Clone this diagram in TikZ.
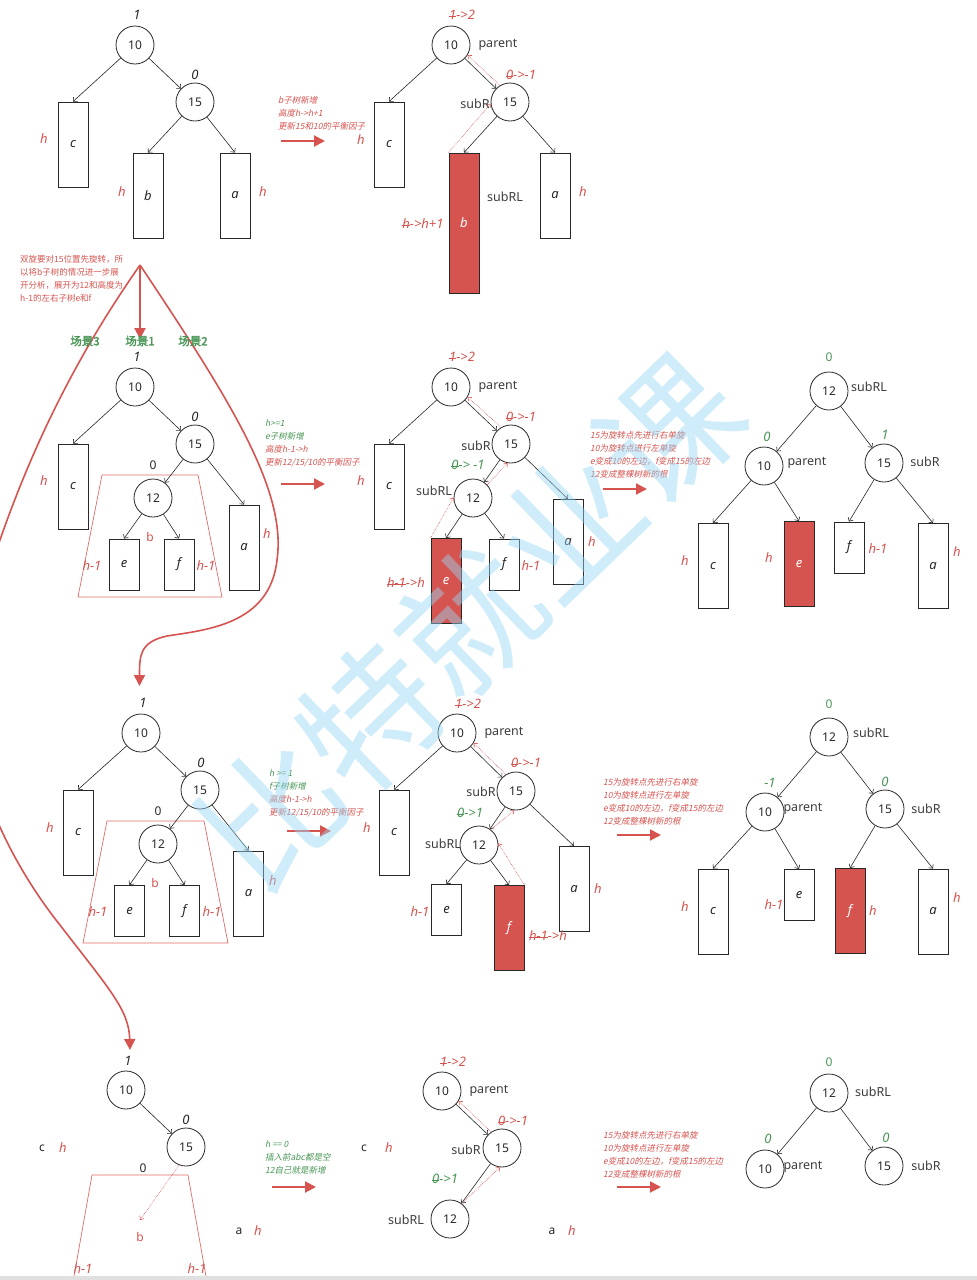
\documentclass[tikz,border=0pt]{standalone}
\usepackage{fontspec}
\setmainfont{Noto Sans}
\newfontfamily\cjk{Noto Sans CJK SC}
\newfontfamily\cjki[FakeSlant=0.2]{Noto Sans CJK SC}
\newfontfamily\cjkb[FakeBold=2]{Noto Sans CJK SC}
\usetikzlibrary{arrows.meta}
\definecolor{myred}{RGB}{214,84,80}
\definecolor{mygreen}{RGB}{72,150,85}
\definecolor{wmblue}{RGB}{150,215,245}
\definecolor{ink}{RGB}{40,40,40}
\newcommand\fsz[1]{\fontsize{#1}{#1}\selectfont}
\newcommand\strk[1]{\leavevmode\setbox0\hbox{#1}\rlap{\raisebox{0.45ex}{\rule{\wd0}{0.6pt}}}\box0}
\tikzset{
 cn/.style={draw=ink, circle, minimum size=38pt, inner sep=0pt, line width=0.8pt, font=\fsz{12}, text=ink},
 bx/.style={draw=ink, line width=0.9pt, minimum width=30pt, inner sep=0pt, font=\itshape\fsz{13}, text=ink},
 rbx/.style={bx, fill=myred, text=white},
 hA/.style={minimum height=85pt},
 hB/.style={minimum height=51pt},
 hC/.style={minimum height=140pt},
 ar/.style={draw=ink, line width=0.6pt, -{Straight Barb[length=3pt,width=6pt]}},
 dar/.style={myred, line width=0.6pt, densely dotted, -{Straight Barb[length=3pt,width=5pt]}},
 bigarr/.style={myred, line width=2pt, -{Triangle[length=11pt,width=11pt]}},
 curvarr/.style={myred, line width=1.6pt, -{Triangle[length=11pt,width=11pt]}},
 trap/.style={myred!85, line width=0.7pt},
 ilab/.style={font=\itshape\fsz{13}, text=ink, inner sep=0pt},
 ulab/.style={font=\fsz{12}, text=ink, inner sep=0pt},
 hlab/.style={font=\itshape\fsz{13}, text=myred, inner sep=0pt},
 glab/.style={font=\itshape\fsz{13}, text=mygreen, inner sep=0pt},
 gup/.style={font=\bfseries\fsz{12}, text=mygreen, inner sep=0pt},
 tag/.style={font=\fsz{12.5}, text=ink!90, inner sep=0pt},
 blab/.style={font=\bfseries\fsz{12}, text=myred, inner sep=0pt},
 note/.style={font=\cjki\fontsize{8.5}{13}\selectfont, align=left, anchor=north west, inner sep=0pt, text=myred},
 scen/.style={font=\cjkb\fsz{11.5}, text=mygreen, inner sep=0pt},
}
\begin{document}
\begin{tikzpicture}[x=1pt,y=-1pt]
\clip (0,0) rectangle (977,1280);
\useasboundingbox (0,0) rectangle (977,1280);
\fill[white] (0,0) rectangle (977,1280);

% ===== Panel 1
\node[cn] (p10) at (135,45) {10};
\node[cn] (p15) at (195,102) {15};
\node[bx,hA] (pc) at (73,144.5) {c};
\node[bx,hA] (pb) at (148,195.5) {b};
\node[bx,hA] (pa) at (235,195.5) {a};
\draw[ar] (p10) -- (pc.north);
\draw[ar] (p10) -- (p15);
\draw[ar] (p15) -- (pb.north);
\draw[ar] (p15) -- (pa.north);
\node[ilab] (pl1) at (137,15) {1};
\node[ilab] (pl2) at (195,75) {0};
\node[hlab] (pl3) at (44,139) {h};
\node[hlab] (pl4) at (122,192) {h};
\node[hlab] (pl5) at (263,192) {h};

% annotation 1
\node[note] (n1) at (278,96) {b子树新增\\高度h->h+1\\更新15和10的平衡因子};
\coordinate (n1s) at (281,141); \coordinate (n1e) at (325,141);
\draw[bigarr] (n1s) -- (n1e);

% ===== Panel 2
\node[cn] (q10) at (451,45) {10};
\node[cn] (q15) at (510,102) {15};
\node[bx,hA] (qc) at (389,144.5) {c};
\node[rbx,hC] (qb) at (464,223) {b};
\node[bx,hA] (qa) at (555,195.5) {a};
\draw[ar] (q10) -- (qc.north);
\draw[ar] (q10) -- (q15);
\draw[ar] (q15) -- (qb.north);
\draw[ar] (q15) -- (qa.north);
\draw[dar] (qb.north west) -- (q15.185);
\draw[dar] (q15.121) -- (q10.-31);
\node[hlab] (ql1) at (462,15) {\strk{1}->2};
\node[tag] (ql2) at (498,45) {parent};
\node[hlab] (ql3) at (521,75) {\strk{0}->-1};
\node[tag] (ql4) at (475,104) {subR};
\node[tag] (ql5) at (505,197) {subRL};
\node[hlab] (ql6) at (361,140) {h};
\node[hlab] (ql7) at (423,224) {\strk{h}->h+1};
\node[hlab] (ql8) at (583,192) {h};

% ===== big red drawing
\node[font=\cjk\fontsize{8.5}{13}\selectfont, align=left, anchor=north west, inner sep=0pt, text=myred] (n0) at (20,255) {双旋要对15位置先旋转，所\\以将b子树的情况进一步展\\开分析，展开为12和高度为\\h-1的左右子树e和f};
\coordinate (apex) at (140,265);
\coordinate (apexdown) at (140,339);
\draw[bigarr] (apex) -- (apexdown);
\coordinate (s2end) at (139.5,686);
\coordinate (s3end) at (130,1050);
\draw[curvarr] (apex) .. controls (230,400) and (287,490) .. (277,560) .. controls (270,625) and (205,630) .. (167,636) .. controls (140,642) and (139.5,655) .. (s2end);
\draw[curvarr] (apex) .. controls (95,330) and (25,440) .. (-25,620) .. controls (-55,730) and (0,850) .. (60,925) .. controls (110,990) and (129,1010) .. (s3end);
\node[scen] (sc3) at (85,341) {场景3};
\node[scen] (sc1) at (140,341) {场景1};
\node[scen] (sc2) at (193,341) {场景2};

% ===== Panel 3
\node[cn] (r10) at (135,387) {10};
\node[cn] (r15) at (195,444) {15};
\node[cn] (r12) at (153,498) {12};
\node[bx,hA] (rc) at (73,486.5) {c};
\node[bx,hA] (ra) at (244,547.5) {a};
\node[bx,hB] (re) at (124,564.5) {e};
\node[bx,hB] (rf) at (179,564.5) {f};
\draw[trap] (102,475) -- (198,475) -- (222,597) -- (78,597) -- cycle;
\draw[ar] (r10) -- (rc.north);
\draw[ar] (r10) -- (r15);
\draw[ar] (r15) -- (r12);
\draw[ar] (r15) -- (ra.north);
\draw[ar] (r12) -- (re.north);
\draw[ar] (r12) -- (rf.north);
\node[ilab] (rl1) at (137,357) {1};
\node[ilab] (rl2) at (195,417) {0};
\node[ulab] (rl3) at (153,465) {0};
\node[hlab] (rl4) at (44,481) {h};
\node[hlab] (rl5) at (267,534) {h};
\node[blab] (rl6) at (150,537) {b};
\node[hlab] (rl7) at (92,566) {h-1};
\node[hlab] (rl8) at (206,566) {h-1};

% annotation 2
\node[note] (n2) at (265,420) {{\color{mygreen}h>=1}\\{\color{mygreen}e子树新增}\\高度h-1->h\\更新12/15/10的平衡因子};
\coordinate (n2s) at (281,484); \coordinate (n2e) at (325,484);
\draw[bigarr] (n2s) -- (n2e);

% ===== Panel 4
\node[cn] (s10) at (451,387) {10};
\node[cn] (s15) at (511,444) {15};
\node[cn] (s12) at (473,498) {12};
\node[bx,hA] (sc) at (389,486.5) {c};
\node[bx,hA] (sa) at (568,542) {a};
\node[rbx,hA] (se) at (446,581) {e};
\node[bx,hB] (sf) at (504,564.5) {f};
\draw[ar] (s10) -- (sc.north);
\draw[ar] (s10) -- (s15);
\draw[ar] (s15) -- (s12);
\draw[ar] (s15) -- (sa.north);
\draw[ar] (s12) -- (se.north);
\draw[ar] (s12) -- (sf.north);
\draw[dar] (se.north west) -- (s12.178);
\draw[dar] (s12.43) -- (s15.-100);
\draw[dar] (s15.121) -- (s10.-31);
\node[hlab] (sl1) at (462,357) {\strk{1}->2};
\node[tag] (sl2) at (498,387) {parent};
\node[hlab] (sl3) at (521,417) {\strk{0}->-1};
\node[tag] (sl4) at (476,446) {subR};
\node[glab] (sl5) at (468,465) {\strk{0} -> -1};
\node[tag] (sl6) at (434,491) {subRL};
\node[hlab] (sl7) at (361,481) {h};
\node[hlab] (sl8) at (406,583) {\strk{h-1}->h};
\node[hlab] (sl9) at (531,566) {h-1};
\node[hlab] (sl10) at (592,542) {h};

% annotation 3
\node[note] (n3) at (590,431) {15为旋转点先进行右单旋\\10为旋转点进行左单旋\\e变成10的左边，f变成15的左边\\12变成整棵树新的根};
\coordinate (n3s) at (603,489); \coordinate (n3e) at (647,489);
\draw[bigarr] (n3s) -- (n3e);

% ===== Panel 5
\node[cn] (u12) at (829,391) {12};
\node[cn] (u10) at (764,466) {10};
\node[cn] (u15) at (884,463) {15};
\node[bx,hA] (uc) at (713,566) {c};
\node[rbx,hA] (ue) at (799,564) {e};
\node[bx,hB] (uf) at (849,547.5) {f};
\node[bx,hA] (ua) at (933,566) {a};
\draw[ar] (u12) -- (u10);
\draw[ar] (u12) -- (u15);
\draw[ar] (u10) -- (uc.north);
\draw[ar] (u10) -- (ue.north);
\draw[ar] (u15) -- (uf.north);
\draw[ar] (u15) -- (ua.north);
\node[gup] (ul1) at (829,357) {0};
\node[tag] (ul2) at (869,387) {subRL};
\node[glab] (ul3) at (767,437) {0};
\node[tag] (ul4) at (807,463) {parent};
\node[glab] (ul5) at (885,435) {1};
\node[tag] (ul6) at (925,462) {subR};
\node[hlab] (ul7) at (685,561) {h};
\node[hlab] (ul8) at (769,558) {h};
\node[hlab] (ul9) at (878,549) {h-1};
\node[hlab] (ul10) at (957,552) {h};

% ===== Panel 6
\node[cn] (v10) at (141,733) {10};
\node[cn] (v15) at (200,790) {15};
\node[cn] (v12) at (158,844) {12};
\node[bx,hA] (vc) at (78,832.5) {c};
\node[bx,hA] (va) at (248.5,893.5) {a};
\node[bx,hB] (ve) at (129.5,911) {e};
\node[bx,hB] (vf) at (184.5,911) {f};
\draw[trap] (107,821) -- (204,821) -- (228,943) -- (83,943) -- cycle;
\draw[ar] (v10) -- (vc.north);
\draw[ar] (v10) -- (v15);
\draw[ar] (v15) -- (v12);
\draw[ar] (v15) -- (va.north);
\draw[ar] (v12) -- (ve.north);
\draw[ar] (v12) -- (vf.north);
\node[ilab] (vl1) at (143,703) {1};
\node[ilab] (vl2) at (201,763) {0};
\node[ulab] (vl3) at (158,811) {0};
\node[hlab] (vl4) at (50,828) {h};
\node[hlab] (vl5) at (273,881) {h};
\node[blab] (vl6) at (155,883) {b};
\node[hlab] (vl7) at (98,912) {h-1};
\node[hlab] (vl8) at (212,912) {h-1};

% annotation 4
\node[note] (n4) at (269,770) {{\color{mygreen}h >= 1}\\{\color{mygreen}f子树新增}\\高度h-1->h\\更新12/15/10的平衡因子};
\coordinate (n4s) at (287,831); \coordinate (n4e) at (331,831);
\draw[bigarr] (n4s) -- (n4e);

% ===== Panel 7
\node[cn] (w10) at (457,733) {10};
\node[cn] (w15) at (516,791) {15};
\node[cn] (w12) at (479,845) {12};
\node[bx,hA] (wc) at (394,832.5) {c};
\node[bx,hA] (wa) at (574,889) {a};
\node[bx,hB] (we) at (446.5,910) {e};
\node[rbx,hA] (wf) at (509,928) {f};
\draw[ar] (w10) -- (wc.north);
\draw[ar] (w10) -- (w15);
\draw[ar] (w15) -- (w12);
\draw[ar] (w15) -- (wa.north);
\draw[ar] (w12) -- (we.north);
\draw[ar] (w12) -- (wf.north);
\draw[dar] (wf.north east) -- (w12.5);
\draw[dar] (w12.53) -- (w15.-95);
\draw[dar] (w15.121) -- (w10.-31);
\node[hlab] (wl1) at (468,704) {\strk{1}->2};
\node[tag] (wl2) at (504,733) {parent};
\node[hlab] (wl3) at (526,763) {\strk{0}->-1};
\node[tag] (wl4) at (481,792) {subR};
\node[glab] (wl5) at (470,813) {\strk{0}->1};
\node[tag] (wl6) at (443,844) {subRL};
\node[hlab] (wl7) at (367,828) {h};
\node[hlab] (wl8) at (420,912) {h-1};
\node[hlab] (wl9) at (548,936) {\strk{h-1}->h};
\node[hlab] (wl10) at (598,889) {h};

% annotation 5
\node[note] (n5) at (603,778) {15为旋转点先进行右单旋\\10为旋转点进行左单旋\\e变成10的左边，f变成15的左边\\12变成整棵树新的根};
\coordinate (n5s) at (617,835); \coordinate (n5e) at (661,835);
\draw[bigarr] (n5s) -- (n5e);

% ===== Panel 8
\node[cn] (x12) at (829,737) {12};
\node[cn] (x10) at (765,812) {10};
\node[cn] (x15) at (885,809) {15};
\node[bx,hA] (xc) at (713,911.5) {c};
\node[bx,hB] (xe) at (799,895) {e};
\node[rbx,hA] (xf) at (850,911) {f};
\node[bx,hA] (xa) at (933,911.5) {a};
\draw[ar] (x12) -- (x10);
\draw[ar] (x12) -- (x15);
\draw[ar] (x10) -- (xc.north);
\draw[ar] (x10) -- (xe.north);
\draw[ar] (x15) -- (xf.north);
\draw[ar] (x15) -- (xa.north);
\node[gup] (xl1) at (829,704) {0};
\node[tag] (xl2) at (871,733) {subRL};
\node[glab] (xl3) at (770,783) {-1};
\node[tag] (xl4) at (803,809) {parent};
\node[glab] (xl5) at (885,782) {0};
\node[tag] (xl6) at (926,809) {subR};
\node[hlab] (xl7) at (685,907) {h};
\node[hlab] (xl8) at (774,905) {h-1};
\node[hlab] (xl9) at (873,911) {h};
\node[hlab] (xl10) at (957,898) {h};

% ===== Panel 9
\node[cn] (y10) at (126,1090) {10};
\node[cn] (y15) at (186,1147) {15};
\draw[ar] (y10) -- (y15);
\draw[trap] (73,1282) -- (92,1175) -- (188,1175) -- (207,1282);
\coordinate (yb) at (140,1220);
\draw[dar] (y15.-111) -- (yb);
\node[ilab] (yl1) at (128,1061) {1};
\node[ilab] (yl2) at (186,1120) {0};
\node[ulab] (yl3) at (42,1148) {c};
\node[hlab] (yl4) at (63,1148) {h};
\node[ulab] (yl5) at (143,1168) {0};
\node[blab] (yl6) at (140,1237) {b};
\node[ulab] (yl7) at (239,1231) {a};
\node[hlab] (yl8) at (258,1231) {h};
\node[hlab] (yl9) at (83,1269) {h-1};
\node[hlab] (yl10) at (197,1269) {h-1};

% annotation 6
\node[note, text=mygreen] (n6) at (265,1141) {h == 0\\插入前abc都是空\\12自己就是新增};
\coordinate (n6s) at (272,1187); \coordinate (n6e) at (316,1187);
\draw[bigarr] (n6s) -- (n6e);

% ===== Panel 10
\node[cn] (z10) at (442,1091) {10};
\node[cn] (z15) at (502,1148) {15};
\node[cn] (z12) at (450,1219) {12};
\draw[ar] (z10) -- (z15);
\draw[ar] (z15) -- (z12);
\draw[dar] (z12.53) -- (z15.-96);
\draw[dar] (z15.124) -- (z10.-31);
\node[hlab] (zl1) at (453,1062) {\strk{1}->2};
\node[tag] (zl2) at (489,1091) {parent};
\node[hlab] (zl3) at (513,1121) {\strk{0}->-1};
\node[tag] (zl4) at (466,1150) {subR};
\node[glab] (zl5) at (445,1179) {\strk{0}->1};
\node[tag] (zl6) at (406,1220) {subRL};
\node[ulab] (zl7) at (364,1148) {c};
\node[hlab] (zl8) at (389,1148) {h};
\node[ulab] (zl9) at (552,1231) {a};
\node[hlab] (zl10) at (572,1231) {h};

% annotation 7
\node[note] (n7) at (603,1131) {15为旋转点先进行右单旋\\10为旋转点进行左单旋\\e变成10的左边，f变成15的左边\\12变成整棵树新的根};
\coordinate (n7s) at (617,1187); \coordinate (n7e) at (661,1187);
\draw[bigarr] (n7s) -- (n7e);

% ===== Panel 11
\node[cn] (k12) at (829,1093) {12};
\node[cn] (k10) at (765,1169) {10};
\node[cn] (k15) at (884,1166) {15};
\draw[ar] (k12) -- (k10);
\draw[ar] (k12) -- (k15);
\node[gup] (kl1) at (829,1062) {0};
\node[tag] (kl2) at (873,1092) {subRL};
\node[glab] (kl3) at (768,1139) {0};
\node[tag] (kl4) at (803,1167) {parent};
\node[glab] (kl5) at (886,1138) {0};
\node[tag] (kl6) at (926,1166) {subR};

% watermark
\node[rotate=44, text=wmblue, text opacity=0.45, font=\cjk\fsz{138}, inner sep=0pt] (wm) at (470,622) {比特就业课};

% bottom bar
\fill[black!12] (0,1276) rectangle (977,1280);
\end{tikzpicture}
\end{document}
